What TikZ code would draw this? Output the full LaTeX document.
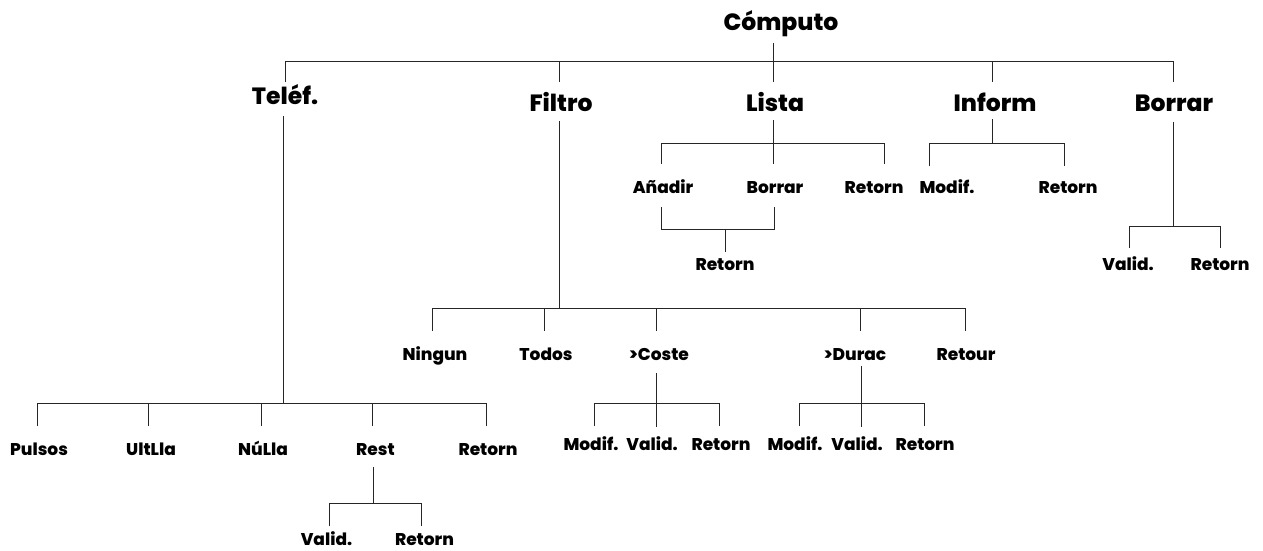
\documentclass[tikz,border=0pt]{standalone}
\usepackage{fontspec}
\setmainfont{Poppins}[BoldFont={Poppins ExtraBold}]
\begin{document}
\begin{tikzpicture}[x=1pt,y=-1pt,
  big/.style={font=\fontsize{23.5}{26}\selectfont\bfseries, inner sep=0pt, anchor=base},
  small/.style={font=\fontsize{17}{20}\selectfont\bfseries, inner sep=0pt, anchor=base},
  conn/.style={draw=black!85, line width=1pt}]
\useasboundingbox (0,0) rectangle (1263,550);
% top level
\node[big] (comp) at (781,30) {Cómputo};
\node[big] (tel) at (285,104) {Teléf.};
\node[big] (fil) at (561,111) {Filtro};
\node[big] (lis) at (775,111) {Lista};
\node[big] (inf) at (995,111) {Inform};
\node[big] (bor) at (1174,111) {Borrar};
\coordinate (topbar) at (773,61);
\draw[conn] (773,43) -- (topbar);
\draw[conn] (285,82) -- (285,61) -- (1173,61) -- (1173,82);
\foreach \x in {559,773,992} \draw[conn] (\x,61) -- (\x,82);
% Telef subtree
\foreach \n/\x/\t in {p1/39/Pulsos, p2/151/UltLla, p3/263/NúLla, p4/375.5/Rest, p5/488/Retorn}
  \node[small] (\n) at (\x,455) {\t};
\draw[conn] (283,116) -- (283,403);
\draw[conn] (37,426) -- (37,403) -- (486.5,403) -- (486.5,426);
\foreach \x in {148.6,261,372.7} \draw[conn] (\x,403) -- (\x,426);
\node[small] (rv) at (326.5,545.5) {Valid.};
\node[small] (rr) at (424.5,545.5) {Retorn};
\draw[conn] (373.5,467) -- (373.5,503);
\draw[conn] (329,526) -- (329,503) -- (421,503) -- (421,526);
% Filtro subtree
\foreach \n/\x/\t in {f1/435/Ningun, f2/546/Todos, f3/659/>Coste, f4/855/>Durac, f5/966/Retour}
  \node[small] (\n) at (\x,360) {\t};
\draw[conn] (559,121) -- (559,308);
\draw[conn] (432,331) -- (432,308) -- (965,308) -- (965,331);
\foreach \x in {544,656,860} \draw[conn] (\x,308) -- (\x,331);
% >Coste
\foreach \n/\x/\t in {c1/591/Modif., c2/652/Valid., c3/721/Retorn}
  \node[small] (\n) at (\x,450) {\t};
\draw[conn] (656,373) -- (656,427);
\draw[conn] (594,426) -- (594,403) -- (719,403) -- (719,426);
% >Durac
\foreach \n/\x/\t in {d1/795/Modif., d2/857/Valid., d3/925/Retorn}
  \node[small] (\n) at (\x,450) {\t};
\draw[conn] (861,366) -- (861,427);
\draw[conn] (799,426) -- (799,403) -- (924.5,403) -- (924.5,426);
% Lista subtree
\foreach \n/\x/\t in {l1/663/Añadir, l2/775/Borrar, l3/874/Retorn}
  \node[small] (\n) at (\x,193) {\t};
\draw[conn] (773,120) -- (773,164);
\draw[conn] (661,164) -- (661,143) -- (884,143) -- (884,164);
\draw[conn] (661,207) -- (661,229) -- (774,229) -- (774,207);
\draw[conn] (725,229) -- (725,252);
\node[small] (lr) at (725,270) {Retorn};
% Inform subtree
\node[small] (i1) at (947,193) {Modif.};
\node[small] (i2) at (1068,193) {Retorn};
\draw[conn] (992,119) -- (992,143);
\draw[conn] (929,166) -- (929,143) -- (1064,143) -- (1064,166);
% Borrar subtree
\node[small] (b1) at (1128,270) {Valid.};
\node[small] (b2) at (1220,270) {Retorn};
\draw[conn] (1173,122) -- (1173,226);
\draw[conn] (1129,248) -- (1129,226) -- (1220,226) -- (1220,248);
\end{tikzpicture}
\end{document}
